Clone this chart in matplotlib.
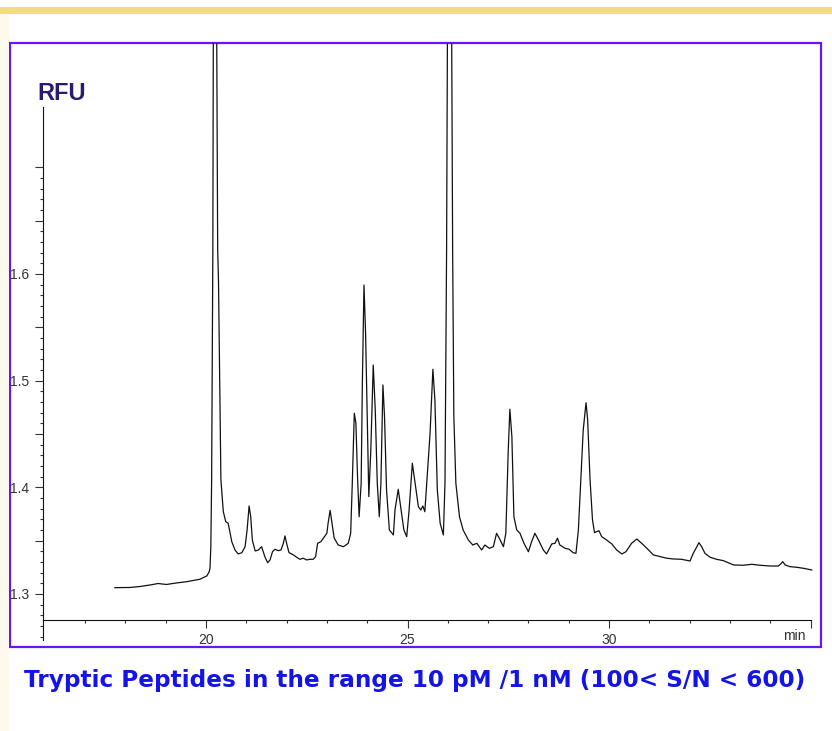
import numpy as np
import matplotlib.pyplot as plt
from matplotlib.patches import Rectangle

# trace: retention time (min) and signal (RFU)
time_min = [17.74, 18.11, 18.36, 18.61, 18.81, 19.02, 19.26, 19.52, 19.70, 19.85,
            20.02, 20.08, 20.10, 20.12, 20.14, 20.17, 20.21, 20.29, 20.31, 20.37,
            20.43, 20.49, 20.55, 20.60, 20.64, 20.72, 20.80, 20.89, 20.97, 21.02,
            21.07, 21.11, 21.15, 21.22, 21.30, 21.38, 21.46, 21.53, 21.59, 21.65,
            21.71, 21.79, 21.86, 21.92, 21.96, 22.00, 22.06, 22.17, 22.25, 22.33,
            22.41, 22.50, 22.58, 22.66, 22.72, 22.77, 22.85, 22.94, 23.00, 23.03,
            23.08, 23.12, 23.18, 23.28, 23.41, 23.53, 23.59, 23.63, 23.68, 23.72,
            23.76, 23.80, 23.85, 23.88, 23.92, 23.96, 24.00, 24.04, 24.09, 24.15,
            24.20, 24.25, 24.30, 24.34, 24.39, 24.43, 24.48, 24.55, 24.65, 24.69,
            24.77, 24.84, 24.91, 24.98, 25.04, 25.12, 25.19, 25.27, 25.33, 25.38,
            25.43, 25.50, 25.56, 25.63, 25.68, 25.74, 25.81, 25.89, 25.93, 25.97,
            26.04, 26.12, 26.15, 26.20, 26.29, 26.38, 26.51, 26.62, 26.72, 26.84,
            26.92, 27.03, 27.13, 27.21, 27.30, 27.38, 27.44, 27.50, 27.54, 27.59,
            27.64, 27.71, 27.79, 27.89, 28.00, 28.08, 28.16, 28.25, 28.37, 28.45,
            28.58, 28.66, 28.72, 28.78, 28.91, 29.01, 29.11, 29.18, 29.24, 29.30,
            29.36, 29.43, 29.47, 29.53, 29.59, 29.64, 29.69, 29.75, 29.82, 29.94,
            30.07, 30.19, 30.32, 30.42, 30.56, 30.69, 30.81, 30.94, 31.10, 31.27,
            31.43, 31.60, 31.80, 32.01, 32.09, 32.18, 32.23, 32.30, 32.38, 32.51,
            32.67, 32.84, 32.96, 33.09, 33.33, 33.54, 33.75, 34.00, 34.20, 34.26,
            34.31, 34.37, 34.49, 34.66, 34.82, 35.03]
rfu = [1.3059, 1.3061, 1.3070, 1.3084, 1.3098, 1.3089, 1.3103, 1.3115, 1.3127, 1.3138,
       1.3169, 1.3209, 1.3244, 1.3443, 1.4068, 1.6224, 2.3000, 1.6224, 1.5943, 1.4068,
       1.3771, 1.3678, 1.3663, 1.3569, 1.3490, 1.3412, 1.3375, 1.3387, 1.3443, 1.3600,
       1.3825, 1.3724, 1.3506, 1.3403, 1.3412, 1.3443, 1.3350, 1.3293, 1.3319, 1.3396,
       1.3419, 1.3406, 1.3412, 1.3475, 1.3544, 1.3475, 1.3387, 1.3366, 1.3344, 1.3325,
       1.3335, 1.3319, 1.3325, 1.3325, 1.3350, 1.3475, 1.3490, 1.3537, 1.3569, 1.3663,
       1.3784, 1.3678, 1.3525, 1.3459, 1.3443, 1.3475, 1.3569, 1.4037, 1.4694, 1.4600,
       1.4099, 1.3724, 1.4037, 1.4975, 1.5896, 1.5443, 1.4662, 1.3912, 1.4350, 1.5146,
       1.4724, 1.4037, 1.3724, 1.4037, 1.4959, 1.4662, 1.3975, 1.3600, 1.3553, 1.3787,
       1.3981, 1.3787, 1.3600, 1.3537, 1.3787, 1.4225, 1.4037, 1.3818, 1.3787, 1.3825,
       1.3771, 1.4162, 1.4506, 1.5106, 1.4818, 1.3975, 1.3663, 1.3553, 1.4037, 1.6224,
       2.3000, 1.6224, 1.4662, 1.4037, 1.3724, 1.3600, 1.3506, 1.3459, 1.3475, 1.3412,
       1.3459, 1.3428, 1.3443, 1.3569, 1.3506, 1.3443, 1.3569, 1.4350, 1.4731, 1.4474,
       1.3724, 1.3600, 1.3569, 1.3475, 1.3396, 1.3490, 1.3569, 1.3506, 1.3412, 1.3375,
       1.3469, 1.3475, 1.3522, 1.3459, 1.3428, 1.3419, 1.3387, 1.3381, 1.3600, 1.4068,
       1.4537, 1.4793, 1.4631, 1.4068, 1.3694, 1.3575, 1.3584, 1.3593, 1.3537, 1.3506,
       1.3469, 1.3412, 1.3375, 1.3396, 1.3475, 1.3515, 1.3475, 1.3428, 1.3366, 1.3350,
       1.3335, 1.3328, 1.3325, 1.3309, 1.3381, 1.3443, 1.3481, 1.3443, 1.3381, 1.3344,
       1.3325, 1.3312, 1.3293, 1.3272, 1.3269, 1.3278, 1.3269, 1.3262, 1.3262, 1.3281,
       1.3303, 1.3272, 1.3256, 1.3250, 1.3241, 1.3225]

x_major = [20, 25, 30, 35]
x_labels = ['20', '25', '30', '']
y_major = [1.30, 1.35, 1.40, 1.45, 1.50, 1.55, 1.60, 1.65, 1.70]
y_labels = ['1.3', '', '1.4', '', '1.5', '', '1.6', '', '']

W, H = 832, 731
fig = plt.figure(figsize=(W / 100, H / 100), dpi=100)
fig.patch.set_facecolor('white')

# yellow strip along the top and cream edge on the left
fig.add_artist(Rectangle((0, 1 - 13.5 / H), 1, 6.5 / H, transform=fig.transFigure,
                         facecolor='#f3dc7e', edgecolor='none'))
fig.add_artist(Rectangle((0, 0), 9 / W, 1 - 14 / H, transform=fig.transFigure,
                         facecolor='#fdf9ec', edgecolor='none'))

# plot area = the purple box (x 10-821 px, y 43-647 px)
ax = fig.add_axes([10 / W, 1 - 647 / H, 811 / W, 604 / H])
ax.plot(time_min, rfu, color='#111111', lw=0.9)
ax.set_xlim(15.137, 35.26)
ax.set_ylim(1.2503, 1.8164)

ax.patch.set_edgecolor('#6b14f5')
ax.patch.set_linewidth(1.6)
ax.spines['top'].set_visible(False)
ax.spines['right'].set_visible(False)
ax.spines['left'].set_position(('data', 15.96))
ax.spines['left'].set_bounds(1.257, 1.756)
ax.spines['bottom'].set_position(('data', 1.2756))
ax.spines['bottom'].set_bounds(15.96, 35)
for s in ['left', 'bottom']:
    ax.spines[s].set_linewidth(0.8)
    ax.spines[s].set_color('#111111')

ax.set_xticks(x_major)
ax.set_xticklabels(x_labels)
ax.set_xticks(np.arange(17, 36), minor=True)
ax.set_yticks(y_major)
ax.set_yticklabels(y_labels)
ax.set_yticks(np.arange(1.26, 1.705, 0.01), minor=True)
ax.tick_params(which='major', direction='out', length=6, width=0.8, color='#333333',
               labelsize=10, labelcolor='#333333', pad=3)
ax.tick_params(axis='y', which='major', pad=4)
ax.tick_params(which='minor', direction='out', length=2.5, width=0.8, color='#333333')
for lab in ax.get_xticklabels() + ax.get_yticklabels():
    lab.set_family('Liberation Sans')

fig.text(806 / W, 1 - 636 / H, 'min', ha='right', va='center', fontsize=10,
         color='#333333', family='Liberation Sans')
fig.text(37 / W, 1 - 94 / H, 'RFU', ha='left', va='center', fontsize=17,
         fontweight='bold', color='#2c1a6e', family='Liberation Sans')
fig.text(415 / W, 1 - 681 / H, 'Tryptic Peptides in the range 10 pM /1 nM (100< S/N < 600)',
         ha='center', va='center', fontsize=16.7, fontweight='bold', color='#1414e6',
         family='DejaVu Sans')

fig.savefig('out.png', dpi=100)
